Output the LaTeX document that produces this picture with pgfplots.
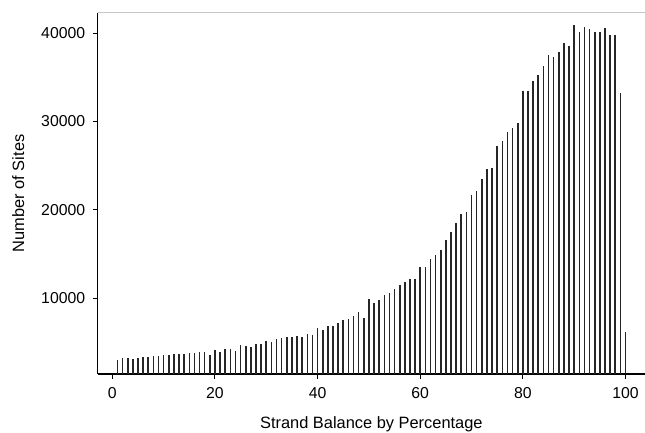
\documentclass[border=0pt]{standalone}
\usepackage{pgfplots}
\pgfplotsset{compat=1.18}
\usepackage{fontspec}
\setmainfont{Liberation Sans}
\begin{document}
\begin{tikzpicture}[x=1pt,y=1pt]
\begin{axis}[
  name=main, at={(0,0)}, anchor=south west,
  scale only axis, width=547.3pt, height=361.3pt,
  xmin=-2.85, xmax=103.8, ymin=1400, ymax=42300,
  axis x line*=bottom, axis y line*=left,
  axis line style={black, line width=1.1pt},
  xtick={0,20,40,60,80,100}, ytick={10000,20000,30000,40000},
  tick align=outside, major tick length=5pt,
  tick style={black, line width=1pt},
  /pgf/number format/assume math mode=true,
  /pgf/number format/1000 sep={},
  scaled y ticks=false,
  tick label style={font=\fontsize{15.8}{18}\selectfont},
  xticklabel style={yshift=-5pt},
  yticklabel style={xshift=-4pt},
  label style={font=\fontsize{16.4}{19}\selectfont},
  xlabel={Strand Balance by Percentage},
  ylabel={Number of Sites},
  xlabel shift=11.5pt,
  ylabel shift=10pt,
  clip=true,
]
\draw[gray!45, line width=1.4pt] (rel axis cs:0,1) -- (rel axis cs:1,1);
\addplot[ycomb, black!85, line width=1.6pt, mark=none] coordinates {
(1,2980) (2,3170) (3,3250) (4,3090) (5,3210) (6,3280) (7,3280) (8,3400) (9,3440) (10,3510)
(11,3590) (12,3660) (13,3660) (14,3700) (15,3740) (16,3770) (17,3850) (18,3850) (19,3590) (20,4110)
(21,3920) (22,4190) (23,4230) (24,4030) (25,4680) (26,4600) (27,4490) (28,4790) (29,4760) (30,5170)
(31,5060) (32,5400) (33,5440) (34,5550) (35,5590) (36,5730) (37,5620) (38,5960) (39,5780) (40,6570)
(41,6410) (42,6830) (43,6830) (44,7210) (45,7510) (46,7620) (47,7960) (48,8420) (49,7770) (50,9890)
(51,9430) (52,9770) (53,10380) (54,10530) (55,11060) (56,11430) (57,11810) (58,12150) (59,12110) (60,13510)
(61,13550) (62,14450) (63,14900) (64,15470) (65,16570) (66,17510) (67,18460) (68,19510) (69,19740) (70,21660)
(71,22080) (72,23500) (73,24570) (74,24680) (75,27240) (76,27810) (77,28780) (78,29260) (79,29840) (80,33470)
(81,33470) (82,34560) (83,35240) (84,36300) (85,37470) (86,37320) (87,37810) (88,38830) (89,38530) (90,40870)
(91,40110) (92,40640) (93,40490) (94,40150) (95,40150) (96,40530) (97,39770) (98,39730) (99,33170) (100,6110)
};
\end{axis}
\pgfresetboundingbox
\path (-97.7pt,-59pt) rectangle (547.3pt,374pt);
\end{tikzpicture}
\end{document}
